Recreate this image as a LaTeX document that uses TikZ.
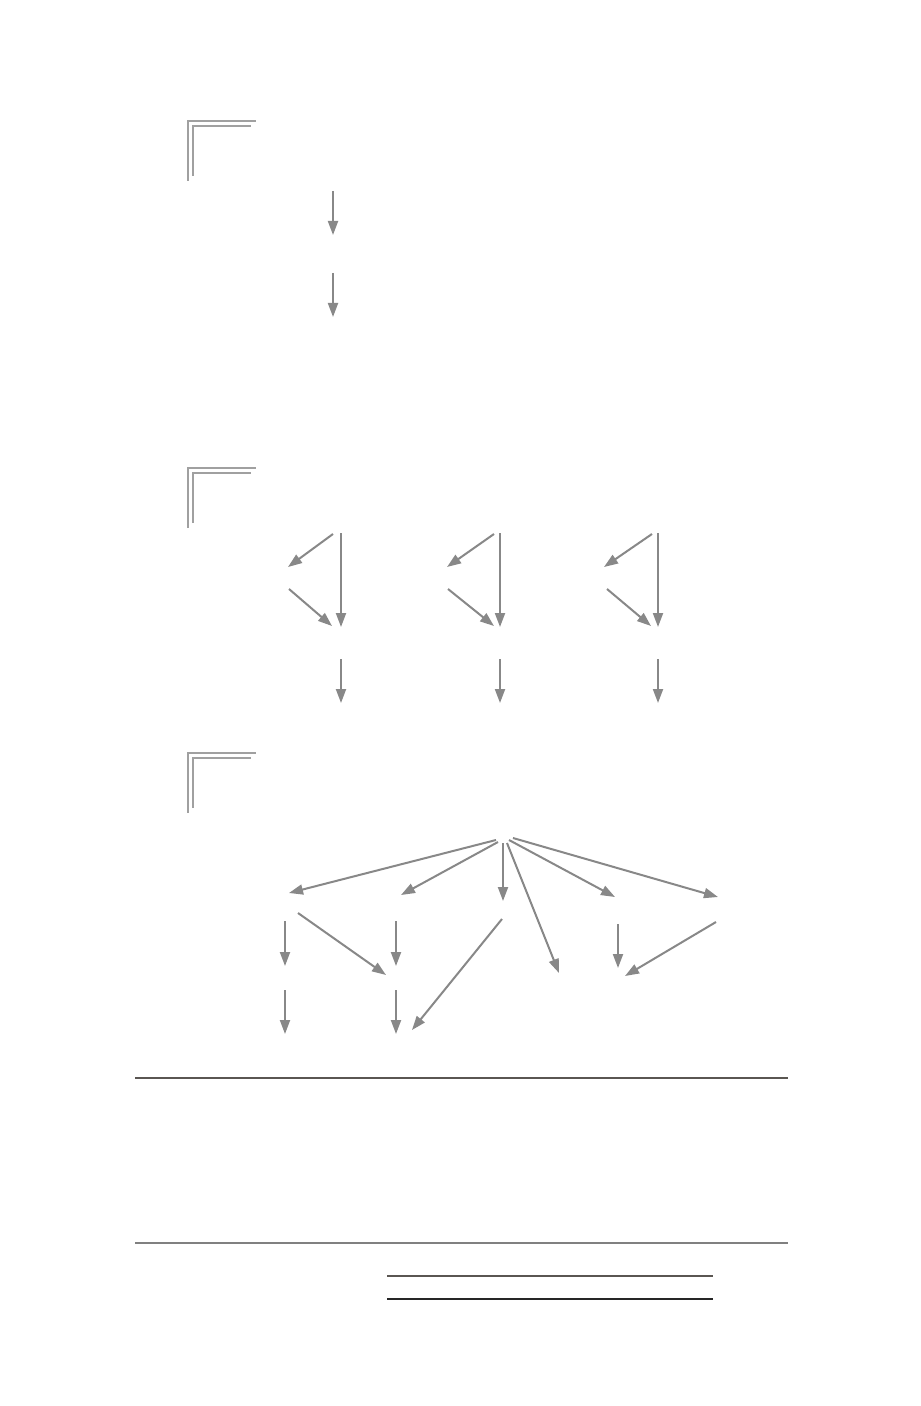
\documentclass[tikz,border=0pt]{standalone}
\usepackage{tikz}
\usetikzlibrary{arrows.meta}
\definecolor{arrgray}{HTML}{888888}
\definecolor{brkgray}{HTML}{A0A0A0}
\definecolor{rulegray}{HTML}{5A5652}

\begin{document}
\begin{tikzpicture}[x=0.5pt,y=-0.5pt,
  arr/.style={draw=arrgray,line width=1pt,-{Triangle[length=7pt,width=5pt]}},
  brk/.style={draw=brkgray,line width=0.75pt},
  rul/.style={draw=rulegray,line width=0.8pt}]
\useasboundingbox (0,0) rectangle (920,1406);
% corner marks
\draw [brk] (188,181) -- (188,121) -- (256,121);
\draw [brk] (193,176) -- (193,126) -- (251,126);
\draw [brk] (188,528) -- (188,468) -- (256,468);
\draw [brk] (193,523) -- (193,473) -- (251,473);
\draw [brk] (188,813) -- (188,753) -- (256,753);
\draw [brk] (193,808) -- (193,758) -- (251,758);
% first chain
\coordinate (p1) at (333,191);
\coordinate (p2) at (333,235);
\coordinate (p3) at (333,273);
\coordinate (p4) at (333,317);
\draw [arr] (p1) -- (p2);
\draw [arr] (p3) -- (p4);
% three triangles
\coordinate (a1) at (333,534);
\coordinate (a2) at (288,567);
\coordinate (a3) at (341,533);
\coordinate (a4) at (341,627);
\coordinate (a5) at (289,589);
\coordinate (a6) at (332,626);
\coordinate (a7) at (341,659);
\coordinate (a8) at (341,703);
\draw [arr] (a1) -- (a2);
\draw [arr] (a3) -- (a4);
\draw [arr] (a5) -- (a6);
\draw [arr] (a7) -- (a8);
\coordinate (b1) at (494,534);
\coordinate (b2) at (447,567);
\coordinate (b3) at (500,533);
\coordinate (b4) at (500,627);
\coordinate (b5) at (448,589);
\coordinate (b6) at (494,626);
\coordinate (b7) at (500,659);
\coordinate (b8) at (500,703);
\draw [arr] (b1) -- (b2);
\draw [arr] (b3) -- (b4);
\draw [arr] (b5) -- (b6);
\draw [arr] (b7) -- (b8);
\coordinate (c1) at (652,534);
\coordinate (c2) at (604,567);
\coordinate (c3) at (658,533);
\coordinate (c4) at (658,627);
\coordinate (c5) at (607,589);
\coordinate (c6) at (651,626);
\coordinate (c7) at (658,659);
\coordinate (c8) at (658,703);
\draw [arr] (c1) -- (c2);
\draw [arr] (c3) -- (c4);
\draw [arr] (c5) -- (c6);
\draw [arr] (c7) -- (c8);
% tree
\coordinate (r1) at (496,840);
\coordinate (r2) at (498,842);
\coordinate (r3) at (503,843);
\coordinate (r4) at (507,843);
\coordinate (r5) at (509,840);
\coordinate (r6) at (513,838);
\coordinate (t1) at (289,893);
\coordinate (t2) at (401,895);
\coordinate (t3) at (503,901);
\coordinate (t4) at (559,973);
\coordinate (t5) at (615,897);
\coordinate (t6) at (718,897);
\draw [arr] (r1) -- (t1);
\draw [arr] (r2) -- (t2);
\draw [arr] (r3) -- (t3);
\draw [arr] (r4) -- (t4);
\draw [arr] (r5) -- (t5);
\draw [arr] (r6) -- (t6);
\coordinate (u1) at (285,921);
\coordinate (u2) at (285,966);
\coordinate (u3) at (298,913);
\coordinate (u4) at (386,975);
\coordinate (u5) at (396,921);
\coordinate (u6) at (396,966);
\coordinate (u7) at (502,919);
\coordinate (u8) at (412,1030);
\coordinate (u9) at (618,924);
\coordinate (u10) at (618,968);
\coordinate (u11) at (716,922);
\coordinate (u12) at (625,976);
\draw [arr] (u1) -- (u2);
\draw [arr] (u3) -- (u4);
\draw [arr] (u5) -- (u6);
\draw [arr] (u7) -- (u8);
\draw [arr] (u9) -- (u10);
\draw [arr] (u11) -- (u12);
\coordinate (v1) at (285,990);
\coordinate (v2) at (285,1034);
\coordinate (v3) at (396,990);
\coordinate (v4) at (396,1034);
\draw [arr] (v1) -- (v2);
\draw [arr] (v3) -- (v4);
% rules
\coordinate (h1) at (135,1078);
\coordinate (h2) at (788,1078);
\coordinate (h3) at (135,1243);
\coordinate (h4) at (788,1243);
\coordinate (h5) at (387,1276);
\coordinate (h6) at (713,1276);
\coordinate (h7) at (387,1299);
\coordinate (h8) at (713,1299);
\draw [rul] (h1) -- (h2);
\draw [rul,draw=gray] (h3) -- (h4);
\draw [rul] (h5) -- (h6);
\draw [rul,draw=black!85] (h7) -- (h8);
\end{tikzpicture}
\end{document}
